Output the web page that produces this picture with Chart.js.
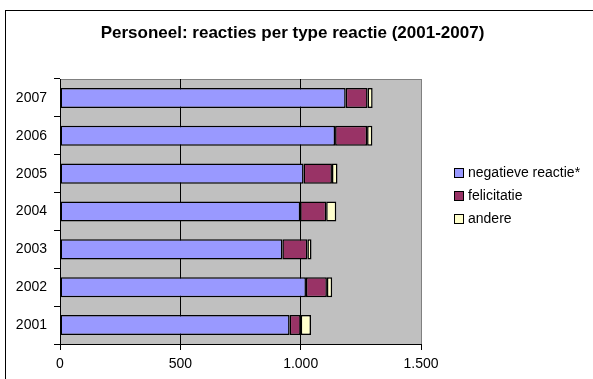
<!DOCTYPE html>
<html>
<head>
<meta charset="utf-8">
<title>Personeel: reacties per type reactie</title>
<script src="https://cdn.jsdelivr.net/npm/chart.js@4.4.1/dist/chart.umd.min.js"></script>
<style>
  html, body { margin: 0; padding: 0; background: #fff; }
  #wrap { position: relative; width: 593px; height: 379px; overflow: hidden; font-family: "Liberation Sans", Arial, sans-serif; }
  #frame { position: absolute; left: 5px; top: 10px; width: 700px; height: 500px; border-left: 1.5px solid #000; border-top: 1.5px solid #000; }
  #chart { position: absolute; left: 0; top: 0; }
  #title { position: absolute; left: 0; width: 585px; top: 23.6px; line-height: 17px; text-align: center; font-weight: bold; font-size: 17px; color: #000; }
  #legend { position: absolute; left: 454px; top: 160.6px; font-size: 14px; color: #000; }
  .item { position: relative; height: 23.3px; line-height: 23px; padding-left: 14px; white-space: nowrap; }
  .item span { position: absolute; left: 0; top: 7px; width: 8px; height: 8px; border: 1.5px solid #000; }
</style>
</head>
<body>
<div id="wrap">
  <div id="frame"></div>
  <canvas id="chart" width="593" height="379"></canvas>
  <div id="title">Personeel: reacties per type reactie (2001-2007)</div>
  <div id="legend"></div>
</div>
<script>
// jaren en aantallen per type reactie
const jaren = ["2001", "2002", "2003", "2004", "2005", "2006", "2007"];
const negatief = [954, 1022, 924, 998, 1012, 1143, 1187];
const felicitatie = [46, 87, 104, 108, 118, 133, 91];
const andere = [43, 22, 17, 42, 23, 22, 21];

const reeksNamen = ["negatieve reactie*", "felicitatie", "andere"];
const reeksKleuren = ["#9999FF", "#993366", "#FFFFCC"];
const xTicks = [0, 500, 1000, 1500];

// legenda
const legend = document.getElementById("legend");
reeksNamen.forEach(function (naam, i) {
  const row = document.createElement("div");
  row.className = "item";
  row.innerHTML = '<span style="background:' + reeksKleuren[i] + '"></span>' + naam;
  legend.appendChild(row);
});

// grijze achtergrond van het plotgebied
const plotBg = {
  id: "plotBg",
  beforeDraw(chart) {
    const { ctx, chartArea: a } = chart;
    ctx.save();
    ctx.fillStyle = "#C0C0C0";
    ctx.fillRect(a.left, a.top, a.right - a.left, a.bottom - a.top);
    ctx.strokeStyle = "#808080";
    ctx.lineWidth = 1;
    ctx.beginPath();
    ctx.moveTo(a.left, Math.round(a.top) + 0.5);
    ctx.lineTo(Math.round(a.right) + 0.5, Math.round(a.top) + 0.5);
    ctx.lineTo(Math.round(a.right) + 0.5, a.bottom);
    ctx.stroke();
    ctx.restore();
  },
};

const series = [negatief, felicitatie, andere];

var ctx = document.getElementById("chart").getContext("2d");
var myChart = new Chart(ctx, {
  type: "bar",
  data: {
    labels: jaren,
    datasets: series.map(function (d, i) {
      return {
        label: reeksNamen[i],
        data: d,
        backgroundColor: reeksKleuren[i],
        borderColor: "#000",
        borderWidth: 1.5,
        borderSkipped: false,
        barPercentage: 0.53,
        categoryPercentage: 1,
      };
    }),
  },
  options: {
    indexAxis: "y",
    responsive: false,
    animation: false,
    layout: { padding: { left: 0, top: 79, right: 172, bottom: 0 } },
    plugins: {
      legend: { display: false },
      title: { display: false },
      tooltip: { enabled: false },
    },
    scales: {
      x: {
        stacked: true,
        min: 0,
        max: 1500,
        afterFit: function (scale) { scale.height = 35; },
        afterBuildTicks: function (scale) {
          scale.ticks = xTicks.map(function (v) { return { value: v }; });
        },
        border: { display: true, color: "#000", width: 1 },
        grid: {
          color: function (c) { return c.tick && c.tick.value === 1500 ? "#808080" : "#000"; },
          tickColor: "#000",
          lineWidth: 1,
          tickLength: 6,
          drawOnChartArea: true,
        },
        ticks: {
          padding: 6,
          color: "#000",
          font: { family: "'Liberation Sans', Arial, sans-serif", size: 14 },
          maxRotation: 0,
          callback: function (v) { return String(v).replace(/\B(?=(\d{3})+(?!\d))/g, "."); },
        },
      },
      y: {
        stacked: true,
        reverse: true,
        afterFit: function (scale) { scale.width = 60; },
        border: { display: true, color: "#000", width: 1 },
        grid: {
          drawOnChartArea: false,
          tickColor: "#000",
          tickLength: 6,
          offset: true,
        },
        ticks: {
          padding: 7,
          color: "#000",
          font: { family: "'Liberation Sans', Arial, sans-serif", size: 14 },
        },
      },
    },
  },
  plugins: [plotBg],
});
</script>
</body>
</html>
